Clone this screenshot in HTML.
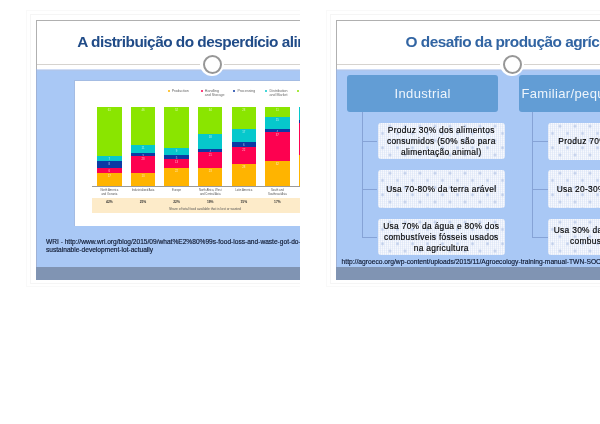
<!DOCTYPE html>
<html><head><meta charset="utf-8">
<style>
*{margin:0;padding:0;box-sizing:border-box}
html,body{width:600px;height:424px;background:#fff;overflow:hidden;font-family:"Liberation Sans",sans-serif}
.clip{will-change:transform}
.clip{position:absolute;top:0;height:424px;overflow:hidden}
.slide{position:absolute;left:36px;top:20px;width:352px;height:260px;background:#fff}
.a{position:absolute}
.bt{position:absolute;left:0;top:0;width:352px;height:1px;background:#b0b0b0}
.bl{position:absolute;left:0;top:0;width:1px;height:49px;background:#b0b0b0}
.bl2{position:absolute;left:0;top:49px;width:1px;height:198px;background:#9fb2d6}
.rule{position:absolute;left:0;top:44px;width:352px;height:1px;background:#d6d3cf}
.blue{position:absolute;left:0;top:49px;width:352px;height:198px;background:#a9c8f5;border-top:1px solid #d0ddf6}
.blue:after{content:"";position:absolute;left:0;top:0;width:100%;height:1px;background:#afc6ec}
.band{position:absolute;left:0;top:247px;width:352px;height:13px;background:#8094b3}
.halo{position:absolute;left:164.3px;top:32.2px;width:24px;height:24px;border-radius:50%;background:#fff}
.ring{position:absolute;left:166.8px;top:34.7px;width:19px;height:19px;border-radius:50%;border:2px solid #979797;background:#fff}
.title{position:absolute;top:14.2px;font-weight:bold;font-size:15.4px;line-height:15px;letter-spacing:-0.52px;white-space:nowrap;color:#214c88}
.cite{position:absolute;font-size:6.7px;line-height:8.5px;color:#0e1830;-webkit-text-stroke:0.15px #0e1830;white-space:nowrap}
/* chart (page coords inside left clip) */
.img{position:absolute;left:75px;top:81px;width:300px;height:145px;background:#fff}
.bar{position:absolute;top:107.4px;width:24.4px;height:78.6px}
.bar div{position:absolute;left:0;width:100%}
.bar i{position:absolute;left:0;top:2px;width:100%;text-align:center;font-style:normal;font-size:2.8px;line-height:3px;color:#fff;opacity:.7}
.g{background:#8ae500}.c{background:#06c8cc}.d{background:#0c3aa4}.r{background:#fd0150}.o{background:#ffb400}
.leg{position:absolute;font-size:3.6px;line-height:4.4px;color:#666;white-space:nowrap}
.dot{position:absolute;width:2px;height:2px;border-radius:50%}
.cat{position:absolute;top:189.3px;width:34px;font-size:2.8px;line-height:3.8px;color:#555;text-align:center}
.pct{position:absolute;top:200.2px;width:34px;font-size:3.3px;font-weight:bold;color:#333;text-align:center}
/* right slide */
.hdr{position:absolute;top:55px;height:36.5px;width:151px;border-radius:3px;background:#629dd5;color:#eef5fc;font-size:13px;letter-spacing:0.35px;line-height:38px;white-space:nowrap}
.vl{position:absolute;width:1px;background:#86a3d6}
.hl{position:absolute;height:1px;background:#86a3d6}
.box{position:absolute;width:127.5px;border-radius:3px;background-color:#f7f9fe;
 background-image:radial-gradient(circle at 12px 3.2px, rgba(170,188,225,.75) 0, rgba(170,188,225,.45) 1.1px, rgba(170,188,225,0) 2.1px),
 radial-gradient(circle at 4.5px 10.4px, rgba(170,188,225,.75) 0, rgba(170,188,225,.45) 1.1px, rgba(170,188,225,0) 2.1px),
 linear-gradient(90deg, rgba(205,218,242,.4) 1px, transparent 1px),
 linear-gradient(0deg, rgba(215,226,245,.25) 1px, transparent 1px);
 background-size:15px 14.4px, 15px 14.4px, 2px 2px, 2px 2px;
 color:#000;-webkit-text-stroke:0.15px #000;font-size:8.4px;letter-spacing:0.3px;line-height:11px;text-align:center;white-space:nowrap;
 display:flex;align-items:center;justify-content:center}
</style></head><body>

<!-- LEFT SLIDE -->
<div class="clip" style="left:0;width:300px">
<div class="a" style="left:30px;top:14px;width:300px;height:270px;border:1px solid #f5f5f5;border-right:none"></div>
<div class="a" style="left:26px;top:10px;width:300px;height:277px;border:1px solid #f9f9f9;border-right:none"></div>

 <div class="slide">
  <div class="rule"></div>
  <div class="blue"></div>
  <div class="band"></div>
  <div class="bt"></div><div class="bl"></div><div class="bl2"></div>
  <div class="halo"></div>
  <div class="ring"></div>
  <div class="title" style="left:41.3px">A distribuição do desperdício alimentar</div>
 </div>
 <!-- chart image -->
 <div class="img"></div>
 <div class="a" style="left:74px;top:80px;width:300px;height:1px;background:#a4bce3"></div>
 <div class="a" style="left:74px;top:80px;width:1px;height:146px;background:#a4bce3"></div>
 <!-- legend -->
 <div class="dot" style="left:167.6px;top:89.6px;background:#ffb400"></div><div class="leg" style="left:171.7px;top:88.6px">Production</div>
 <div class="dot" style="left:200.5px;top:89.6px;background:#fd0150"></div><div class="leg" style="left:204.8px;top:88.6px">Handling<br>and Storage</div>
 <div class="dot" style="left:233.2px;top:89.6px;background:#0c3aa4"></div><div class="leg" style="left:237.5px;top:88.6px">Processing</div>
 <div class="dot" style="left:265.2px;top:89.6px;background:#06c8cc"></div><div class="leg" style="left:269.6px;top:88.6px">Distribution<br>and Market</div>
 <div class="dot" style="left:296.7px;top:89.6px;background:#8ae500"></div>
 <!-- bars -->
 <div class="bar" style="left:97.2px"><div class="g" style="top:0;height:48.4px"><i>61</i></div><div class="c" style="top:48.4px;height:5.7px"><i>7</i></div><div class="d" style="top:54.1px;height:6.8px"><i>8</i></div><div class="r" style="top:60.9px;height:4.5px"><i>6</i></div><div class="o" style="top:65.4px;height:13.6px"><i>17</i></div></div>
 <div class="bar" style="left:130.8px"><div class="g" style="top:0;height:37.2px"><i>46</i></div><div class="c" style="top:37.2px;height:8.4px"><i>11</i></div><div class="d" style="top:45.6px;height:2.6px"><i>3</i></div><div class="r" style="top:48.2px;height:17.2px"><i>28</i></div><div class="o" style="top:65.4px;height:13.6px"><i>13</i></div></div>
 <div class="bar" style="left:164.4px"><div class="g" style="top:0;height:40.4px"><i>52</i></div><div class="c" style="top:40.4px;height:7px"><i>9</i></div><div class="d" style="top:47.4px;height:4.2px"><i>5</i></div><div class="r" style="top:51.6px;height:9px"><i>13</i></div><div class="o" style="top:60.6px;height:18.4px"><i>22</i></div></div>
 <div class="bar" style="left:198px"><div class="g" style="top:0;height:27px"><i>34</i></div><div class="c" style="top:27px;height:14.4px"><i>18</i></div><div class="d" style="top:41.4px;height:2.8px"><i>4</i></div><div class="r" style="top:44.2px;height:16.4px"><i>21</i></div><div class="o" style="top:60.6px;height:18.4px"><i>23</i></div></div>
 <div class="bar" style="left:231.6px"><div class="g" style="top:0;height:21.6px"><i>28</i></div><div class="c" style="top:21.6px;height:13px"><i>17</i></div><div class="d" style="top:34.6px;height:5.1px"><i>6</i></div><div class="r" style="top:39.7px;height:17.2px"><i>22</i></div><div class="o" style="top:56.9px;height:22.1px"><i>28</i></div></div>
 <div class="bar" style="left:265.2px"><div class="g" style="top:0;height:9.2px"><i>11</i></div><div class="c" style="top:9.2px;height:12.1px"><i>15</i></div><div class="d" style="top:21.3px;height:3.1px"><i>4</i></div><div class="r" style="top:24.4px;height:29.2px"><i>37</i></div><div class="o" style="top:53.6px;height:25.4px"><i>32</i></div></div>
 <div class="bar" style="left:298.8px"><div class="c" style="top:0;height:12.5px"></div><div class="d" style="top:12.5px;height:3px"></div><div class="r" style="top:15.5px;height:32.5px"></div><div class="o" style="top:48px;height:31px"></div></div>
 <!-- axis -->
 <div class="a" style="left:92px;top:186px;width:220px;height:1px;background:#9a9a9a"></div>
 <!-- categories -->
 <div class="cat" style="left:92.4px">North America<br>and Oceania</div>
 <div class="cat" style="left:126px">Industrialized Asia</div>
 <div class="cat" style="left:159.6px">Europe</div>
 <div class="cat" style="left:193.2px">North Africa, West<br>and Central Asia</div>
 <div class="cat" style="left:226.8px">Latin America</div>
 <div class="cat" style="left:260.4px">South and<br>Southeast Asia</div>
 <!-- pct band -->
 <div class="a" style="left:92px;top:198px;width:220px;height:15px;background:#fdebc9"></div>
 <div class="pct" style="left:92.4px">42%</div>
 <div class="pct" style="left:126px">25%</div>
 <div class="pct" style="left:159.6px">22%</div>
 <div class="pct" style="left:193.2px">19%</div>
 <div class="pct" style="left:226.8px">15%</div>
 <div class="pct" style="left:260.4px">17%</div>
 <div class="a" style="left:92px;top:206.5px;width:226px;font-size:3.3px;color:#555;text-align:center;white-space:nowrap">Share of total food available that is lost or wasted</div>
 <!-- citation -->
 <div class="cite" style="left:46px;top:237.5px;font-size:6.6px">WRI - http://www.wri.org/blog/2015/09/what%E2%80%99s-food-loss-and-waste-got-do-<br>sustainable-development-lot-actually</div>
</div>

<!-- RIGHT SLIDE -->
<div class="clip" style="left:300px;width:300px">
<div class="a" style="left:30px;top:14px;width:300px;height:270px;border:1px solid #f5f5f5;border-right:none"></div>
<div class="a" style="left:26px;top:10px;width:300px;height:277px;border:1px solid #f9f9f9;border-right:none"></div>

 <div class="slide">
  <div class="rule"></div>
  <div class="blue"></div>
  <div class="band"></div>
  <div class="bt"></div><div class="bl"></div><div class="bl2"></div>
  <div class="halo"></div>
  <div class="ring"></div>
  <div class="title" style="left:69.6px;color:#3265a3">O desafio da produção agrícola</div>
  <!-- headers (slide coords) -->
  <div class="hdr" style="left:11.2px;text-align:center">Industrial</div>
  <div class="hdr" style="left:182.5px;padding-left:3px">Familiar/pequena escala</div>
  <!-- connectors -->
  <div class="vl" style="left:26px;top:91.5px;height:125.5px"></div>
  <div class="hl" style="left:26px;top:121px;width:15px"></div>
  <div class="hl" style="left:26px;top:169px;width:15px"></div>
  <div class="hl" style="left:26px;top:216.5px;width:15px"></div>
  <div class="vl" style="left:196px;top:91.5px;height:125.5px"></div>
  <div class="hl" style="left:196px;top:121px;width:16px"></div>
  <div class="hl" style="left:196px;top:169px;width:16px"></div>
  <div class="hl" style="left:196px;top:216.5px;width:16px"></div>
  <!-- boxes -->
  <div class="box" style="left:41.5px;top:102.7px;height:36.8px">Produz 30% dos alimentos<br>consumidos (50% são para<br>alimentação animal)</div>
  <div class="box" style="left:41.5px;top:150.3px;height:37.7px">Usa 70-80% da terra arável</div>
  <div class="box" style="left:41.5px;top:198.5px;height:36.2px;padding-top:1.2px">Usa 70% da água e 80% dos<br>combustíveis fósseis usados<br>na agricultura</div>
  <div class="box" style="left:212px;top:103px;height:37px">Produz 70% dos alimentos</div>
  <div class="box" style="left:212px;top:150.3px;height:37.5px">Usa 20-30% da terra arável</div>
  <div class="box" style="left:212px;top:198.5px;height:36.2px;padding-bottom:0.6px">Usa 30% da água e 20% dos<br>combustíveis fósseis</div>
  <div class="cite" style="left:5.6px;top:237.8px">http://agroeco.org/wp-content/uploads/2015/11/Agroecology-training-manual-TWN-SOCLA.pdf</div>
 </div>
</div>

</body></html>
